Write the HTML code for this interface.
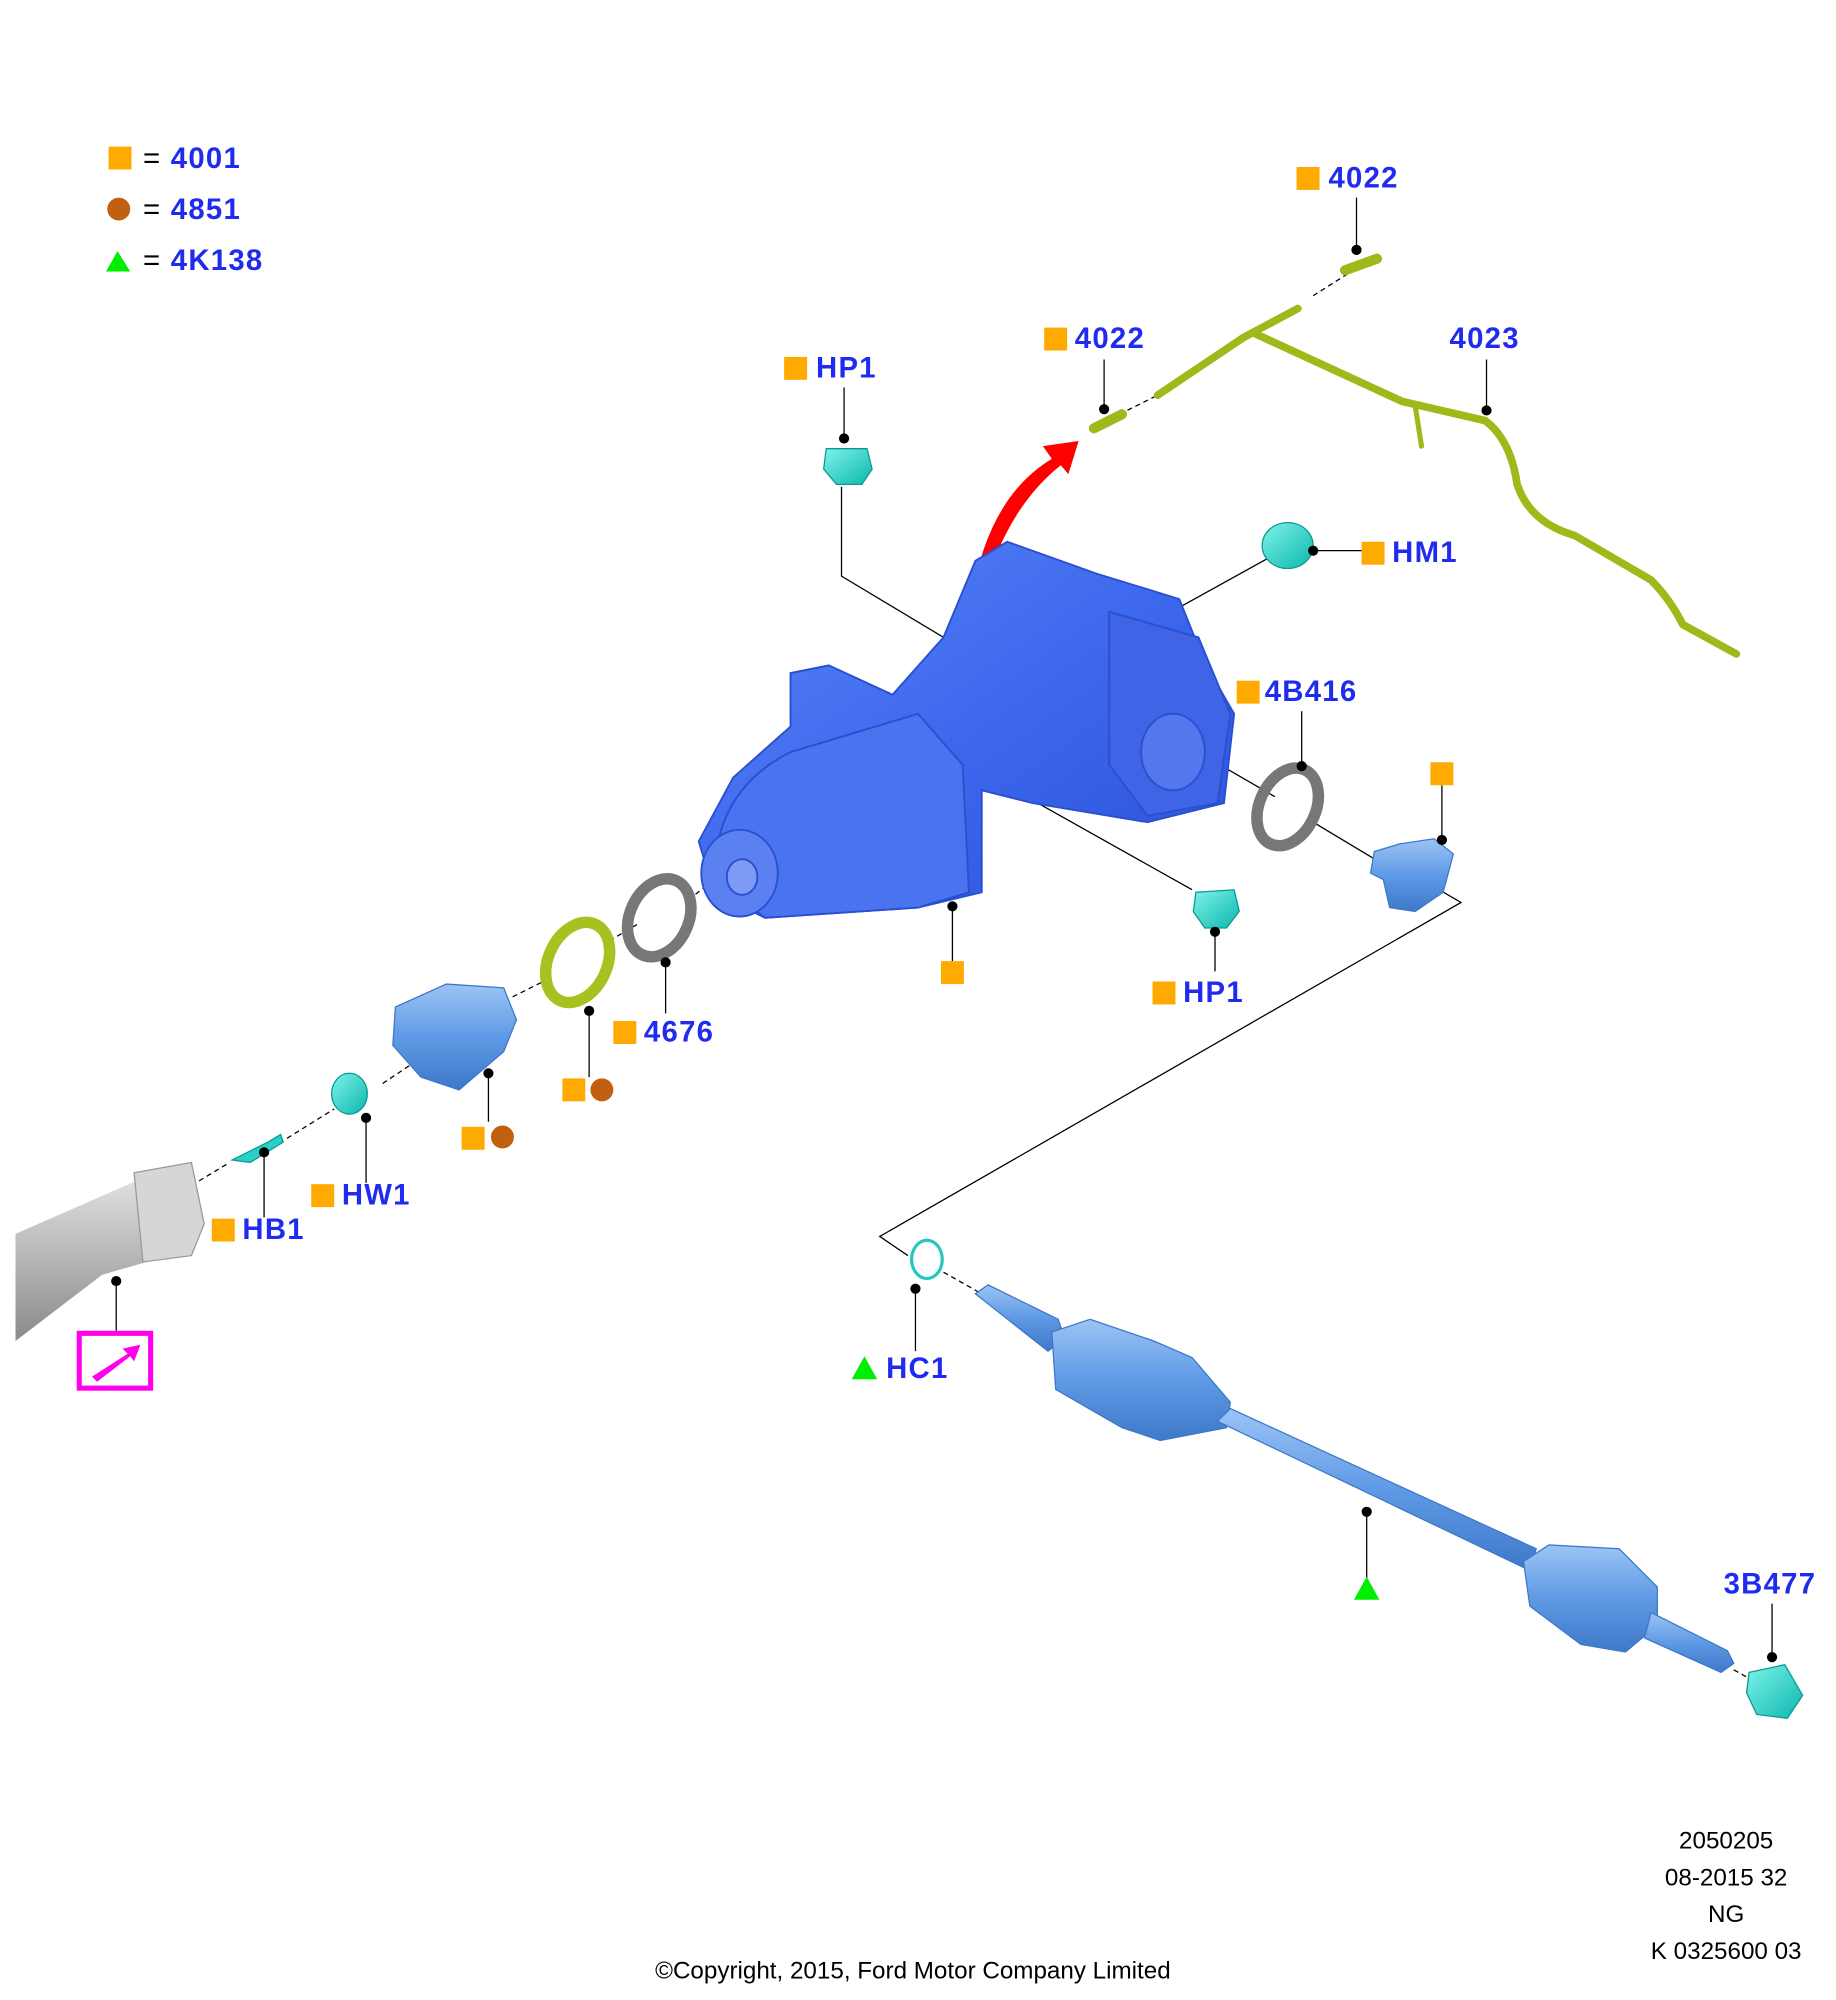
<!DOCTYPE html>
<html><head><meta charset="utf-8"><style>
html,body{margin:0;padding:0;background:#fff;}
svg{display:block;}
.l{font-family:"Liberation Sans",sans-serif;font-weight:bold;font-size:23px;letter-spacing:1px;fill:#1f2cf0;}
.n{font-family:"Liberation Sans",sans-serif;font-size:19px;fill:#000;}
.sq{fill:#ffaa00;}
</style></head><body>
<svg width="1836" height="2000" viewBox="0 0 1440 1569" xmlns="http://www.w3.org/2000/svg">
<defs>
<linearGradient id="gb" x1="0" y1="0" x2="1" y2="1"><stop offset="0" stop-color="#5b86f5"/><stop offset="0.5" stop-color="#3d68ee"/><stop offset="1" stop-color="#2a50d8"/></linearGradient>
<linearGradient id="lb" x1="0" y1="0" x2="0" y2="1"><stop offset="0" stop-color="#9cc4f5"/><stop offset="0.5" stop-color="#5f9ae6"/><stop offset="1" stop-color="#3e78c8"/></linearGradient>
<linearGradient id="gy" x1="0" y1="0" x2="0" y2="1"><stop offset="0" stop-color="#e0e0e0"/><stop offset="0.4" stop-color="#bdbdbd"/><stop offset="1" stop-color="#8a8a8a"/></linearGradient>
<linearGradient id="cy" x1="0" y1="0" x2="1" y2="1"><stop offset="0" stop-color="#7ff3ea"/><stop offset="1" stop-color="#0bb7ae"/></linearGradient>
</defs>
<g fill="none" stroke="#000" stroke-width="1">
<path d="M1064 155V196 M866 282V321 M1166 282V322 M662 304V344 M660 382V452L760 512V535 M1000 435L915 482 M1030 432H1068 M1021 558V601 M905 570L1000 625 M1030 645L1080 675 M1131 616V659 M1115 690L1146 708L690 970L712 985 M953 731V762 M805 625L935 698 M747 711V754 M522 755V795 M462 793V845 M383 842V880 M287 877V928 M207 904V955 M91 1005V1046 M718 1011V1060 M1072 1186V1240 M1390 1258V1300"/>
<path stroke-dasharray="4,3" d="M878 325L908 310 M1030 232L1060 213 M150 930L180 912 M225 893L262 870 M300 850L330 830 M402 782L430 768 M478 738L500 725 M540 706L560 690 M740 998L770 1015 M1360 1310L1378 1320"/>
</g>
<g fill="none" stroke="#9fb81a" stroke-width="6" stroke-linecap="round" stroke-linejoin="round">
<path d="M908 310L975 265L1018 242 M985 262L1100 315L1165 330Q1185 345 1190 380Q1200 410 1235 420L1295 455Q1310 470 1320 490L1362 513"/>
<path d="M1110 318L1115 350" stroke-width="4"/>
<path d="M1055 212L1080 203 M858 336L880 325" stroke-width="8"/>
</g>
<path d="M762 470Q775 390 825 360L818 350L846 346L838 372L832 365Q788 400 770 470Z" fill="#ff0000"/>
<g stroke="#2a4fd0" stroke-width="1.5">
<path d="M765 440L790 425L860 450L925 470L945 520L968 560L960 630L900 645L810 630L770 620L770 700L720 712L600 720L560 700L548 660L575 610L620 570L620 528L650 522L700 545L740 500Z" fill="url(#gb)"/>
<path d="M560 690Q560 620 620 590L720 560L755 600L760 700L720 712L600 720Z" fill="#4a73f0"/>
<ellipse cx="580" cy="685" rx="30" ry="34" fill="#5a80f2"/>
<ellipse cx="582" cy="688" rx="12" ry="14" fill="#7d9af5"/>
<path d="M870 480L940 500L965 560L955 630L900 640L870 600Z" fill="#3f64e6"/>
<ellipse cx="920" cy="590" rx="25" ry="30" fill="#5577ee"/>
</g>
<path d="M648 352L680 352L684 368L676 380L656 380L646 368Z" fill="url(#cy)" stroke="#0a9990"/>
<ellipse cx="1010" cy="428" rx="20" ry="18" fill="url(#cy)" stroke="#0a9990"/>
<path d="M938 700L968 698L972 715L962 728L945 728L936 715Z" fill="url(#cy)" stroke="#0a9990"/>
<ellipse cx="274" cy="858" rx="14" ry="16" fill="url(#cy)" stroke="#0a9990"/>
<path d="M182 910L210 896L220 890L222 896L196 912Z" fill="#2ad0c8" stroke="#0a9990"/>
<ellipse cx="727" cy="988" rx="12" ry="15" fill="none" stroke="#25c8c0" stroke-width="2.5"/>
<path d="M1372 1312L1400 1306L1414 1330L1402 1348L1378 1345L1370 1328Z" fill="url(#cy)" stroke="#0a9990"/>
<ellipse cx="1010" cy="633" rx="22" ry="32" transform="rotate(25 1010 633)" fill="none" stroke="#777" stroke-width="9"/>
<ellipse cx="517" cy="720" rx="23" ry="32" transform="rotate(25 517 720)" fill="none" stroke="#777" stroke-width="9"/>
<ellipse cx="453" cy="755" rx="23" ry="33" transform="rotate(25 453 755)" fill="none" stroke="#a8c020" stroke-width="9"/>
<path d="M1078 668L1098 662L1125 658L1140 670L1132 700L1110 715L1090 712L1085 690L1075 685Z" fill="url(#lb)" stroke="#3e78c8"/>
<path d="M310 790L350 772L395 775L405 800L395 825L360 855L330 845L308 820Z" fill="url(#lb)" stroke="#3e78c8"/>
<path d="M12 968L110 925L150 925L160 960L150 980L80 1000L12 1052Z" fill="url(#gy)"/>
<path d="M105 920L150 912L160 960L150 985L112 990Z" fill="#d6d6d6" stroke="#999"/>
<rect x="62" y="1046" width="56" height="43" fill="none" stroke="#ff00ee" stroke-width="4"/>
<path d="M72 1080L100 1062L96 1058L110 1055L105 1068L102 1064L76 1084Z" fill="#ff00ee"/>
<g fill="url(#lb)" stroke="#3e78c8">
<path d="M765 1015L775 1008L830 1035L835 1050L822 1060Z"/>
<path d="M825 1045L855 1035L905 1052L935 1065L965 1100L962 1120L910 1130L880 1120L828 1090Z"/>
<path d="M955 1115L965 1105L1205 1215L1200 1232Z"/>
<path d="M1195 1225L1215 1212L1270 1215L1300 1245L1300 1275L1275 1296L1240 1290L1200 1260Z"/>
<path d="M1295 1265L1355 1295L1360 1305L1350 1312L1290 1285Z"/>
</g>
<g fill="#000">
<circle cx="1064" cy="196" r="4"/><circle cx="866" cy="321" r="4"/><circle cx="1166" cy="322" r="4"/><circle cx="662" cy="344" r="4"/><circle cx="1030" cy="432" r="4"/><circle cx="1021" cy="601" r="4"/><circle cx="1131" cy="659" r="4"/><circle cx="953" cy="731" r="4"/><circle cx="747" cy="711" r="4"/><circle cx="522" cy="755" r="4"/><circle cx="462" cy="793" r="4"/><circle cx="383" cy="842" r="4"/><circle cx="287" cy="877" r="4"/><circle cx="207" cy="904" r="4"/><circle cx="91" cy="1005" r="4"/><circle cx="718" cy="1011" r="4"/><circle cx="1072" cy="1186" r="4"/><circle cx="1390" cy="1300" r="4"/>
</g>
<rect class="sq" x="85" y="115" width="18" height="18"/><text class="l" x="112" y="132"><tspan fill="#000" font-weight="normal">=</tspan> 4001</text>
<circle cx="93" cy="164" r="9" fill="#c06010"/><text class="l" x="112" y="172"><tspan fill="#000" font-weight="normal">=</tspan> 4851</text>
<path d="M83 213L92 197L102 213Z" fill="#00ee00"/><text class="l" x="112" y="212"><tspan fill="#000" font-weight="normal">=</tspan> 4K138</text>
<rect class="sq" x="1017" y="131" width="18" height="18"/><text class="l" x="1042" y="147">4022</text>
<rect class="sq" x="819" y="257" width="18" height="18"/><text class="l" x="843" y="273">4022</text>
<text class="l" x="1137" y="273">4023</text>
<rect class="sq" x="615" y="280" width="18" height="18"/><text class="l" x="640" y="296">HP1</text>
<rect class="sq" x="1068" y="425" width="18" height="18"/><text class="l" x="1092" y="441">HM1</text>
<rect class="sq" x="970" y="534" width="18" height="18"/><text class="l" x="992" y="550">4B416</text>
<rect class="sq" x="1122" y="598" width="18" height="18"/>
<rect class="sq" x="738" y="754" width="18" height="18"/>
<rect class="sq" x="904" y="770" width="18" height="18"/><text class="l" x="928" y="786">HP1</text>
<rect class="sq" x="481" y="801" width="18" height="18"/><text class="l" x="505" y="817">4676</text>
<rect class="sq" x="441" y="846" width="18" height="18"/><circle cx="472" cy="855" r="9" fill="#c06010"/>
<rect class="sq" x="362" y="884" width="18" height="18"/><circle cx="394" cy="892" r="9" fill="#c06010"/>
<rect class="sq" x="244" y="929" width="18" height="18"/><text class="l" x="268" y="945">HW1</text>
<rect class="sq" x="166" y="956" width="18" height="18"/><text class="l" x="190" y="972">HB1</text>
<path d="M668 1082L678 1064L688 1082Z" fill="#00ee00"/><text class="l" x="695" y="1081">HC1</text>
<path d="M1062 1255L1072 1237L1082 1255Z" fill="#00ee00"/>
<text class="l" x="1352" y="1250">3B477</text>
<text class="n" x="1354" y="1450" text-anchor="middle">2050205</text>
<text class="n" x="1354" y="1479" text-anchor="middle">08-2015 32</text>
<text class="n" x="1354" y="1508" text-anchor="middle">NG</text>
<text class="n" x="1354" y="1537" text-anchor="middle">K 0325600 03</text>
<text class="n" x="716" y="1552" text-anchor="middle">©Copyright, 2015, Ford Motor Company Limited</text>
</svg>
</body></html>
